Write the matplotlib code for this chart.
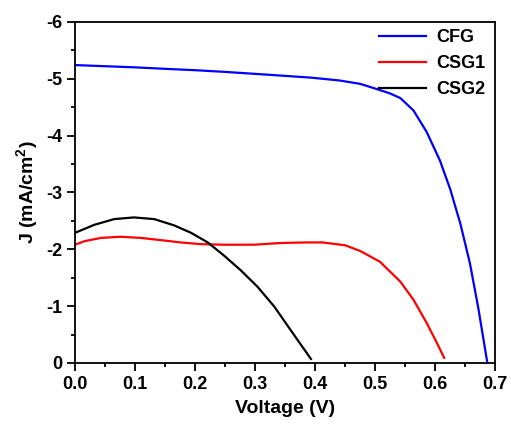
import matplotlib
matplotlib.use("Agg")
import matplotlib.pyplot as plt

plt.rcParams['font.family'] = ['Liberation Sans', 'DejaVu Sans']
plt.rcParams['font.weight'] = 'bold'
plt.rcParams['mathtext.fontset'] = 'custom'
plt.rcParams['mathtext.bf'] = 'Liberation Sans:bold'
plt.rcParams['mathtext.rm'] = 'Liberation Sans:bold'
plt.rcParams['mathtext.default'] = 'bf'

# CFG
v_cfg = [0.0, 0.05, 0.1, 0.158, 0.2, 0.25, 0.308, 0.35, 0.392, 0.44, 0.475, 0.508,
         0.525, 0.542, 0.564, 0.586, 0.608, 0.625, 0.642, 0.658, 0.672, 0.687]
j_cfg = [-5.24, -5.22, -5.20, -5.17, -5.15, -5.12, -5.08, -5.05, -5.02, -4.97, -4.91, -4.80,
         -4.74, -4.66, -4.44, -4.06, -3.56, -3.06, -2.45, -1.75, -0.96, 0.0]

# CSG1
v_csg1 = [0.0, 0.015, 0.043, 0.076, 0.109, 0.143, 0.176, 0.209, 0.248, 0.298, 0.343, 0.387,
          0.412, 0.45, 0.475, 0.508, 0.542, 0.564, 0.586, 0.603, 0.615]
j_csg1 = [-2.08, -2.14, -2.20, -2.22, -2.20, -2.16, -2.12, -2.09, -2.08, -2.08, -2.11, -2.12,
          -2.12, -2.07, -1.97, -1.78, -1.43, -1.11, -0.70, -0.35, -0.09]

# CSG2
v_csg2 = [0.0, 0.032, 0.065, 0.098, 0.132, 0.165, 0.193, 0.221, 0.248, 0.276, 0.304,
          0.332, 0.359, 0.393]
j_csg2 = [-2.29, -2.43, -2.53, -2.56, -2.53, -2.42, -2.29, -2.12, -1.89, -1.63, -1.34,
          -0.99, -0.58, -0.07]

xticks = [0.0, 0.1, 0.2, 0.3, 0.4, 0.5, 0.6, 0.7]
yticks = [0, -1, -2, -3, -4, -5, -6]

fig = plt.figure(figsize=(5.11, 4.29), dpi=100)
ax = fig.add_axes([0.147, 0.154, 0.822, 0.795])

ax.plot(v_cfg, j_cfg, color='#0000ff', lw=1.6, label='CFG')
ax.plot(v_csg1, j_csg1, color='#ff0000', lw=1.6, label='CSG1')
ax.plot(v_csg2, j_csg2, color='black', lw=1.6, label='CSG2')

ax.set_xlim(0, 0.7)
ax.set_ylim(0, -6)
ax.set_xticks(xticks)
ax.set_xticklabels([f"{t:.1f}" for t in xticks])
ax.set_yticks(yticks)
ax.set_yticklabels([str(t) for t in yticks])
ax.set_xticks([0.05 + 0.1 * i for i in range(7)], minor=True)
ax.set_yticks([-0.5 - i for i in range(6)], minor=True)

ax.tick_params(which='major', direction='out', length=6, width=1.3, labelsize=13)
ax.tick_params(which='minor', direction='out', length=3, width=1.3)
ax.tick_params(top=False, right=False)
for s in ax.spines.values():
    s.set_linewidth(1.3)

ax.set_xlabel('Voltage (V)', fontsize=14, fontweight='bold', labelpad=5)
ax.set_ylabel('J (mA/cm$^2$)', fontsize=14, fontweight='bold')

leg = ax.legend(loc='upper right', bbox_to_anchor=(0.993, 1.0), frameon=False, fontsize=13,
                handlelength=2.6, handletextpad=0.55, borderaxespad=0.0, labelspacing=0.5)

fig.savefig('out.png', dpi=100)
